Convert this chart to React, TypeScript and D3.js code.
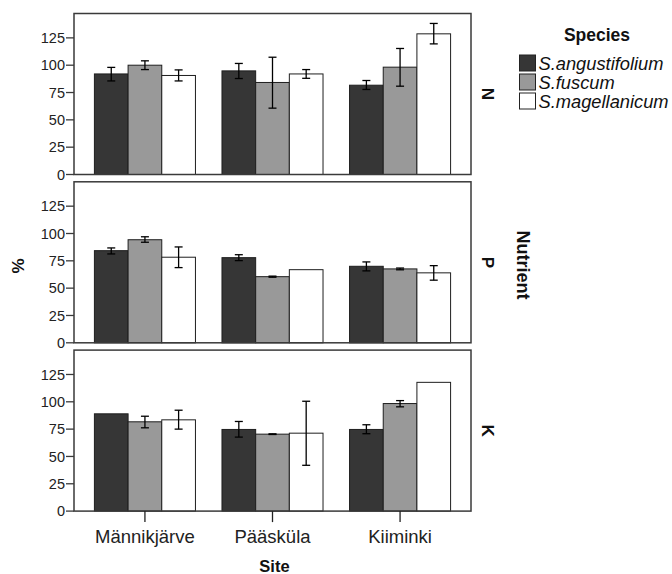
import React from "react";
import * as d3 from "d3";

const sites = ["Männikjärve", "Pääsküla", "Kiiminki"];
const species = ["S.angustifolium", "S.fuscum", "S.magellanicum"];
const nutrients = ["N", "P", "K"];
const speciesColors = ["#363636", "#999999", "#ffffff"];
const yTicks = [0, 25, 50, 75, 100, 125];

// values indexed [site][species]
const meanN = [[92, 100, 90.6], [94.8, 84.2, 92], [81.7, 98.2, 128.7]];
const lowN = [[85.6, 96, 85.6], [87.8, 60.7, 88], [77.8, 80.8, 119.5]];
const highN = [[98, 104, 95.7], [101.6, 107.3, 96], [86, 115.3, 138.2]];

const meanP = [[84.3, 94.3, 78.3], [77.9, 60.5, 66.9], [70, 67.6, 64]];
const lowP = [[81.3, 92, 68.8], [75.2, 60, 66.9], [65.8, 66.8, 57.3]];
const highP = [[86.8, 97, 87.7], [80.6, 61, 66.9], [74, 68.4, 70.6]];

const meanK = [[89, 81.7, 83.5], [74.7, 70.4, 71.3], [74.7, 98.4, 117.8]];
const lowK = [[89, 76.2, 75], [67.7, 70.1, 41.9], [70.8, 95.4, 117.8]];
const highK = [[89, 86.8, 92.3], [82, 70.7, 100.5], [79, 101.1, 117.8]];

const panelData = [
  { mean: meanN, low: lowN, high: highN },
  { mean: meanP, low: lowP, high: highP },
  { mean: meanK, low: lowK, high: highK },
];

const W = 672;
const H = 574;
const left = 74;
const right = 471;
const panelTop0 = 13.5;
const panelH = 161;
const panelStep = 168.3;
const font = "'Liberation Sans', Arial, Helvetica, sans-serif";

export default function App() {
  const x = d3
    .scaleBand<string>()
    .domain(sites)
    .range([left, right])
    .paddingInner(0.208)
    .paddingOuter(0.16);
  const xs = d3.scaleBand<string>().domain(species).range([0, x.bandwidth()]);
  const y = d3.scaleLinear().domain([0, 147.3]).range([panelH, 0]);

  const bottomY = panelTop0 + 2 * panelStep + panelH;

  return (
    <svg
      width={W}
      height={H}
      style={{ position: "absolute", left: 0, top: 0, background: "#fff" }}
      fontFamily={font}
    >
      {panelData.map((pd, pi) => {
        const top = panelTop0 + pi * panelStep;
        return (
          <g key={pi} transform={`translate(0,${top})`}>
            {sites.map((s, si) =>
              species.map((sp, k) => {
                const bx = (x(s) as number) + (xs(sp) as number);
                const v = pd.mean[si][k];
                return (
                  <rect
                    key={`${si}-${k}`}
                    x={bx}
                    y={y(v)}
                    width={xs.bandwidth()}
                    height={y(0) - y(v)}
                    fill={speciesColors[k]}
                    stroke="#1e1e1e"
                    strokeWidth={1}
                  />
                );
              })
            )}
            {sites.map((s, si) =>
              species.map((sp, k) => {
                const lo = pd.low[si][k];
                const hi = pd.high[si][k];
                if (hi - lo <= 0) return null;
                const cx = (x(s) as number) + (xs(sp) as number) + xs.bandwidth() / 2;
                return (
                  <g key={`e${si}-${k}`} stroke="#000" strokeWidth={1.3}>
                    <line x1={cx} x2={cx} y1={y(lo)} y2={y(hi)} />
                    <line x1={cx - 4} x2={cx + 4} y1={y(lo)} y2={y(lo)} />
                    <line x1={cx - 4} x2={cx + 4} y1={y(hi)} y2={y(hi)} />
                  </g>
                );
              })
            )}
            <rect
              x={left}
              y={0}
              width={right - left}
              height={panelH}
              fill="none"
              stroke="#3a3a3a"
              strokeWidth={1.5}
            />
            {yTicks.map((t) => (
              <g key={t} transform={`translate(0,${y(t)})`}>
                <line x1={66} x2={left} y1={0} y2={0} stroke="#3a3a3a" strokeWidth={1.3} />
                <text
                  x={65}
                  y={0}
                  dy="0.35em"
                  textAnchor="end"
                  fontSize={14.5}
                  fill="#222"
                >
                  {t}
                </text>
              </g>
            ))}
            <text
              transform={`translate(482,${panelH / 2}) rotate(90)`}
              textAnchor="middle"
              fontSize={17}
              fontWeight="bold"
              fill="#111"
            >
              {nutrients[pi]}
            </text>
          </g>
        );
      })}

      {sites.map((s) => {
        const cx = (x(s) as number) + x.bandwidth() / 2;
        return (
          <g key={s}>
            <line x1={cx} x2={cx} y1={bottomY} y2={bottomY + 11} stroke="#222" strokeWidth={1.3} />
            <text x={cx} y={bottomY + 31.5} textAnchor="middle" fontSize={18.5} fill="#222">
              {s}
            </text>
          </g>
        );
      })}

      <text x={(left + right) / 2 + 2} y={571.5} textAnchor="middle" fontSize={16.5} fontWeight="bold" fill="#111">
        Site
      </text>
      <text
        transform={`translate(24,266) rotate(-90)`}
        textAnchor="middle"
        fontSize={17}
        fontWeight="bold"
        fill="#111"
      >
        %
      </text>
      <text
        transform={`translate(517,265) rotate(90)`}
        textAnchor="middle"
        fontSize={18}
        fontWeight="bold"
        fill="#111"
      >
        Nutrient
      </text>

      <text x={597} y={40.5} textAnchor="middle" fontSize={17.5} fontWeight="bold" fill="#111">
        Species
      </text>
      {species.map((sp, k) => (
        <g key={sp} transform={`translate(519.5,${55 + k * 19})`}>
          <rect x={0} y={0} width={16} height={16} fill={speciesColors[k]} stroke="#222" strokeWidth={1} />
          <text x={19} y={14.5} fontSize={18.3} fontStyle="italic" fill="#111">
            {sp}
          </text>
        </g>
      ))}
    </svg>
  );
}
